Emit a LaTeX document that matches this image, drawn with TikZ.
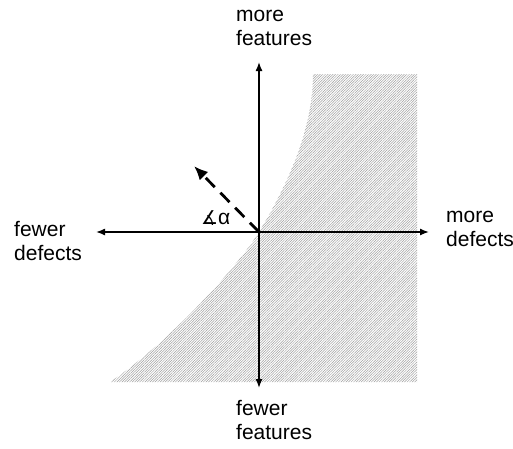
\documentclass[tikz,border=0pt]{standalone}
\usepackage{fontspec}
\setmainfont{Liberation Sans}
\newfontfamily\symfont{DejaVu Sans}
\usetikzlibrary{patterns.meta,arrows.meta}
\begin{document}
\begin{tikzpicture}[x=1pt, y=-1pt, every node/.style={align=left, font=\fontsize{21}{23.5}\selectfont, inner sep=0pt}]
    \useasboundingbox (0,0) rectangle (513,448);
    % region
    \fill[pattern={Lines[distance=1.8pt, angle=45, line width=0.5pt]}, pattern color=gray!75] (110,382) .. controls (170,342) and (239,265) .. (259,232) .. controls (287,186) and (313,130) .. (313,74) -- (417,74) -- (417,382) -- cycle;
    \coordinate (o) at (259,232);
    \coordinate (up) at (259,62);
    \coordinate (down) at (259,388);
    \coordinate (left) at (96,232);
    \coordinate (right) at (429,232);
    \coordinate (dir) at (194,166);
    \node (mf) [anchor=base west] at (236,45) {more\\features};
    \node (fd) [anchor=base west] at (14,260) {fewer\\defects};
    \node (md) [anchor=base west] at (446,246) {more\\defects};
    \node (ff) [anchor=base west] at (236,439) {fewer\\features};
    \node (ang) [anchor=base west] at (201,224) {{\symfont\fontsize{19}{20}\selectfont ∡}α};
    \draw[line width=1.4pt, -{Latex[length=9pt, width=7pt]}] (o) -- (up);
    \draw[line width=1.4pt, -{Latex[length=9pt, width=7pt]}] (o) -- (down);
    \draw[line width=1.4pt, -{Latex[length=9pt, width=7pt]}] (o) -- (left);
    \draw[line width=1.4pt, -{Latex[length=9pt, width=7pt]}] (o) -- (right);
    \draw[line width=2.8pt, dash pattern=on 13pt off 8pt, -{Latex[length=14pt, width=12pt]}] (o) -- (dir);
\end{tikzpicture}
\end{document}
